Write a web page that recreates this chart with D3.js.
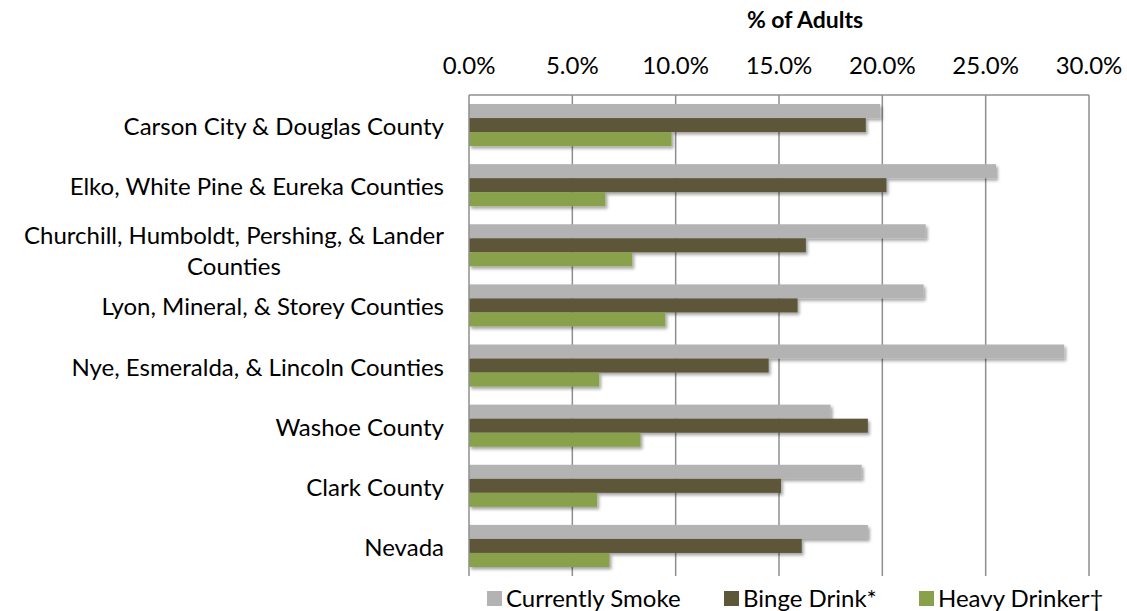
<!DOCTYPE html>
<html>
<head>
<meta charset="utf-8">
<script src="https://cdn.jsdelivr.net/npm/d3@7"></script>
<style>
  html, body { margin: 0; padding: 0; background: #fff; }
  svg { display: block; font-family: "Lato", "Open Sans", sans-serif; }
</style>
</head>
<body>
<svg id="chart" width="1127" height="611"></svg>
<script>
const categories = [
  "Carson City & Douglas County",
  "Elko, White Pine & Eureka Counties",
  "Churchill, Humboldt, Pershing, & Lander Counties",
  "Lyon, Mineral, & Storey Counties",
  "Nye, Esmeralda, & Lincoln Counties",
  "Washoe County",
  "Clark County",
  "Nevada"
];
const categoryLines = [
  ["Carson City & Douglas County"],
  ["Elko, White Pine & Eureka Counties"],
  ["Churchill, Humboldt, Pershing, & Lander", "Counties"],
  ["Lyon, Mineral, & Storey Counties"],
  ["Nye, Esmeralda, & Lincoln Counties"],
  ["Washoe County"],
  ["Clark County"],
  ["Nevada"]
];
const seriesNames = ["Currently Smoke", "Binge Drink*", "Heavy Drinker\u2020"];
const currentlySmoke = [19.9, 25.5, 22.1, 22.0, 28.8, 17.5, 19.0, 19.3];
const bingeDrink     = [19.2, 20.2, 16.3, 15.9, 14.5, 19.3, 15.1, 16.1];
const heavyDrinker   = [9.8, 6.6, 7.9, 9.5, 6.3, 8.3, 6.2, 6.8];
const tickValues = [0, 5, 10, 15, 20, 25, 30];
const axisTitle = "% of Adults";

const colors = ["#b3b3b3", "#5d5639", "#89a14b"];
const seriesValues = [currentlySmoke, bingeDrink, heavyDrinker];

const svg = d3.select("#chart");
const pLeft = 469, pRight = 1089, pTop = 95, pBottom = 576;
const fs = 24;

const defs = svg.append("defs");
const f = defs.append("filter").attr("id", "shadow")
  .attr("x", "-5%").attr("y", "-30%").attr("width", "110%").attr("height", "180%");
f.append("feDropShadow").attr("dx", 2).attr("dy", 2.5).attr("stdDeviation", 1.8)
  .attr("flood-color", "#000").attr("flood-opacity", 0.35);

const x = d3.scaleLinear().domain([0, 30]).range([pLeft, pRight]);
const y0 = d3.scaleBand().domain(categories).range([pTop, pBottom])
  .paddingInner(0.3).paddingOuter(0.15);
const y1 = d3.scaleBand().domain(seriesNames).range([0, y0.bandwidth()]);

// gridlines
svg.append("g").selectAll("line").data(tickValues.slice(1)).join("line")
  .attr("x1", d => x(d)).attr("x2", d => x(d))
  .attr("y1", pTop).attr("y2", pBottom)
  .attr("stroke", "#8f8f8f").attr("stroke-width", 1.5);

// top axis line
svg.append("line").attr("x1", pLeft).attr("x2", pRight).attr("y1", pTop).attr("y2", pTop)
  .attr("stroke", "#8f8f8f").attr("stroke-width", 1.5);

// bars
const rows = categories.map((c, i) => ({ c, vals: seriesValues.map((s, k) => ({ k, v: s[i] })) }));
const groups = svg.append("g").selectAll("g").data(rows).join("g")
  .attr("transform", d => `translate(0,${y0(d.c)})`);
groups.selectAll("rect").data(d => d.vals).join("rect")
  .attr("x", x(0))
  .attr("y", d => y1(seriesNames[d.k]))
  .attr("width", d => x(d.v) - x(0))
  .attr("height", y1.bandwidth())
  .attr("fill", d => colors[d.k])
  .attr("filter", "url(#shadow)");

// left axis line
svg.append("line").attr("x1", pLeft).attr("x2", pLeft).attr("y1", pTop).attr("y2", pBottom)
  .attr("stroke", "#8f8f8f").attr("stroke-width", 1.5);

// tick labels
svg.append("g").selectAll("text").data(tickValues).join("text")
  .attr("x", d => x(d)).attr("y", 74)
  .attr("text-anchor", "middle")
  .attr("font-size", fs).attr("fill", "#000")
  .text(d => d3.format(".1f")(d) + "%");

// axis title
svg.append("text").attr("x", 805).attr("y", 28).attr("text-anchor", "middle")
  .attr("font-size", 23).attr("font-weight", "bold").text(axisTitle);

// category labels
const labelRight = 444;
const lab = svg.append("g").selectAll("text").data(categories).join("text")
  .attr("text-anchor", "end").attr("font-size", fs).attr("fill", "#000");
lab.each(function(d, i) {
  const lines = categoryLines[i];
  const cy = y0(d) + y0.bandwidth() / 2;
  const t = d3.select(this);
  if (lines.length === 1) {
    t.append("tspan").attr("x", labelRight).attr("y", cy + 10).text(lines[0]);
  } else {
    const first = t.append("tspan").attr("x", labelRight).attr("y", cy - 1).text(lines[0]);
    const w = first.node().getComputedTextLength();
    t.append("tspan").attr("x", labelRight - w / 2).attr("y", cy + 30)
      .attr("text-anchor", "middle").text(lines[1]);
  }
});

// legend
const legX = [487, 724, 919];
const leg = svg.append("g").selectAll("g").data(seriesNames).join("g")
  .attr("transform", (d, i) => `translate(${legX[i]},0)`);
leg.append("rect").attr("x", 0).attr("y", 591).attr("width", 15).attr("height", 15)
  .attr("fill", (d, i) => colors[i]);
leg.append("text").attr("x", 19).attr("y", 607).attr("font-size", fs).text(d => d);
</script>
</body>
</html>
